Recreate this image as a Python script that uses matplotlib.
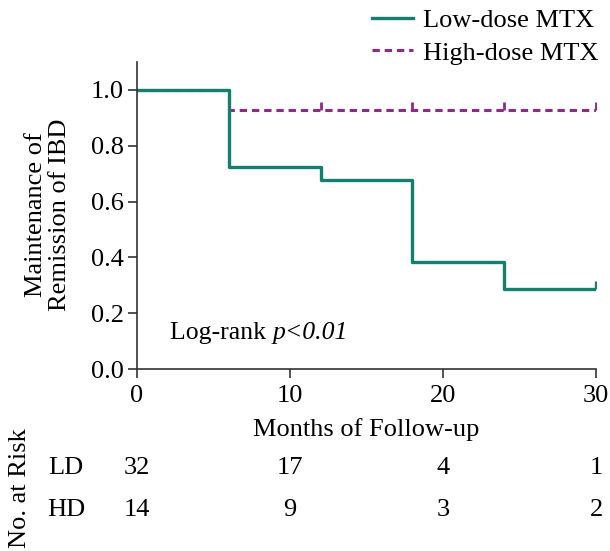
import matplotlib
matplotlib.use("Agg")
import matplotlib.pyplot as plt

# Kaplan-Meier data
ld_months = [0, 6, 12, 18, 24, 30]
ld_surv = [1.0, 0.722, 0.677, 0.382, 0.286, 0.286]
hd_months = [0, 6, 30]
hd_surv = [1.0, 0.927, 0.927]
hd_censor_months = [12, 18, 24, 30]
hd_censor_surv = [0.927, 0.927, 0.927, 0.927]
ld_censor_months = [30]
ld_censor_surv = [0.286]

risk_months = [0, 10, 20, 30]
ld_at_risk = [32, 17, 4, 1]
hd_at_risk = [14, 9, 3, 2]

teal = "#137f6f"
purple = "#8e2a8a"
axcol = "#333333"
fs = 19

plt.rcParams["font.family"] = ["Liberation Serif", "DejaVu Serif"]
plt.rcParams["font.size"] = fs

fig = plt.figure(figsize=(6.10, 5.51), dpi=100)
ax = fig.add_axes([0.2246, 0.3303, 0.7525, 0.5572])

ax.step(hd_months, hd_surv, where="post", color=purple, lw=2.2,
        linestyle=(0, (2.4, 1.6)), label="High-dose MTX")
ax.step(ld_months, ld_surv, where="post", color=teal, lw=2.4,
        label="Low-dose MTX")
ax.plot(hd_censor_months, hd_censor_surv, ls="none", marker=2, ms=6,
        mew=2, color=purple)
ax.plot(ld_censor_months, ld_censor_surv, ls="none", marker=2, ms=6,
        mew=2.4, color=teal)

ax.set_xlim(0, 30)
ax.set_ylim(0, 1.1)
ax.set_xticks([0, 10, 20, 30])
ax.set_yticks([0.0, 0.2, 0.4, 0.6, 0.8, 1.0])
ax.set_yticklabels(["0.0", "0.2", "0.4", "0.6", "0.8", "1.0"])
for side in ["top", "right"]:
    ax.spines[side].set_visible(False)
for side in ["left", "bottom"]:
    ax.spines[side].set_color(axcol)
    ax.spines[side].set_linewidth(1.2)
ax.tick_params(direction="out", length=6.5, width=1.2, color=axcol,
               labelsize=fs)
ax.tick_params(axis="x", pad=5)
ax.tick_params(axis="y", pad=3)

ax.set_xlabel("Months of Follow-up", fontsize=fs, labelpad=8)
fig.text(48 / 610, 1 - 215 / 551, "Maintenance of\nRemission of IBD",
         rotation=90, ha="center", va="center", multialignment="center",
         linespacing=1.1, fontsize=fs)

t1 = ax.text(2.15, 0.13, "Log-rank ", fontsize=18.5, va="center", ha="left")
ax.annotate("p<0.01", xy=(1, 0.5), xycoords=t1, va="center", ha="left",
            fontsize=18.5, style="italic")

# legend
h, l = ax.get_legend_handles_labels()
fig.legend(h[::-1], l[::-1], loc="upper right",
           bbox_to_anchor=(1.012, 1.018), frameon=False, fontsize=fs,
           handlelength=1.55, handletextpad=0.4, labelspacing=0.35,
           borderpad=0.2)

# number at risk table
xt = ax.get_xaxis_transform()
for x, n in zip(risk_months, ld_at_risk):
    ax.text(x, -0.322, str(n), transform=xt, ha="center", va="center",
            fontsize=fs)
for x, n in zip(risk_months, hd_at_risk):
    ax.text(x, -0.459, str(n), transform=xt, ha="center", va="center",
            fontsize=fs)
ax.text(-0.155, -0.322, "LD", transform=ax.transAxes, ha="center",
        va="center", fontsize=fs)
ax.text(-0.155, -0.459, "HD", transform=ax.transAxes, ha="center",
        va="center", fontsize=fs)
fig.text(20 / 610, 1 - 488 / 551, "No. at Risk", rotation=90,
         ha="center", va="center", fontsize=fs)

fig.savefig("out.png", dpi=100)
